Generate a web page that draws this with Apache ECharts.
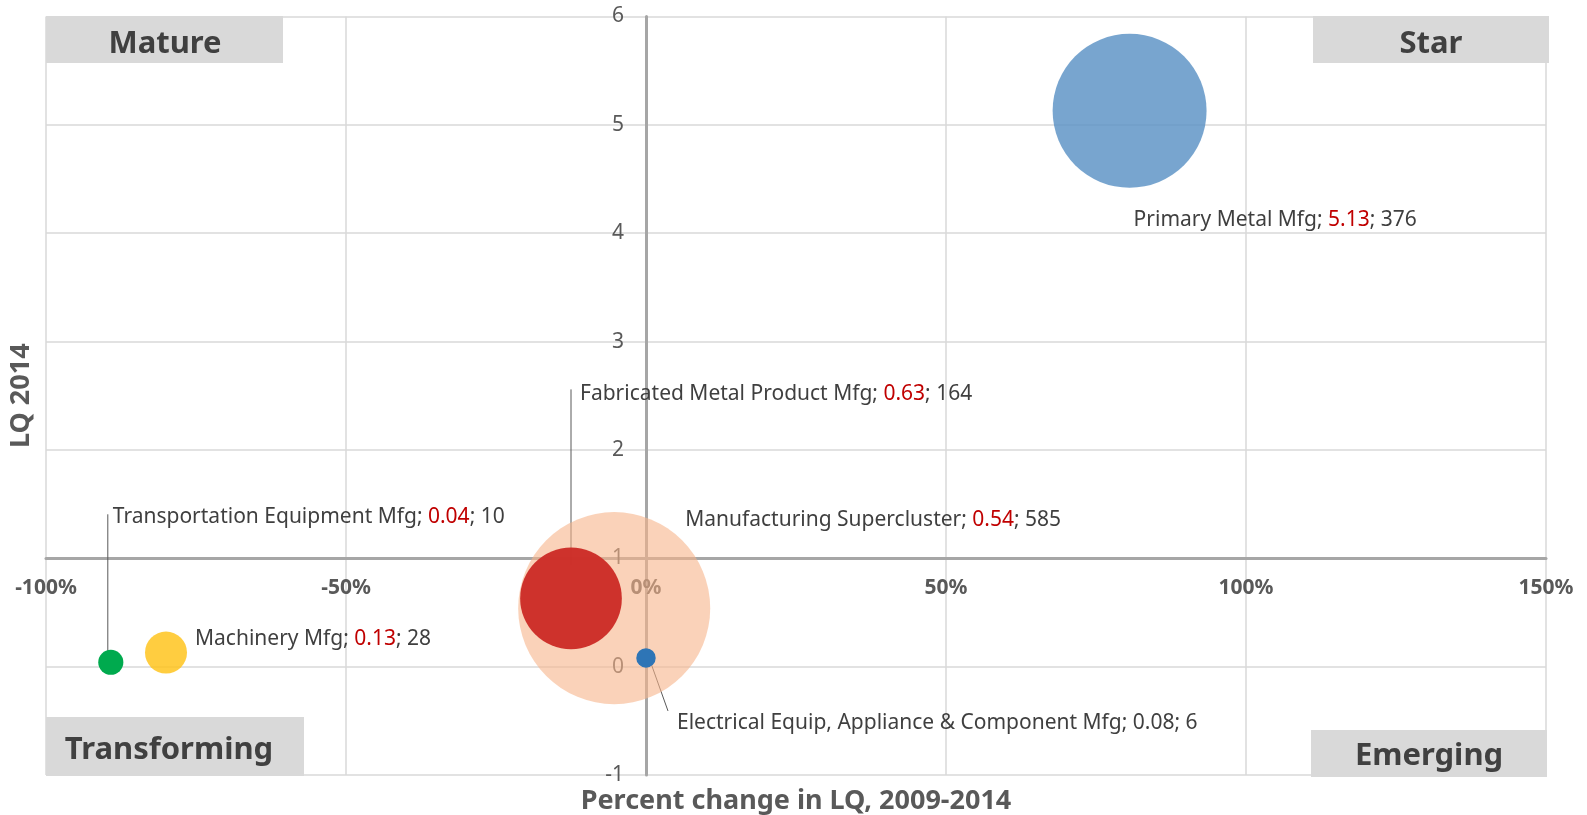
<!DOCTYPE html>
<html>
<head>
<meta charset="utf-8">
<script src="https://cdn.jsdelivr.net/npm/echarts@6/dist/echarts.min.js"></script>
<style>
html, body { margin: 0; padding: 0; background: #fff; }
#chart { width: 1587px; height: 815px; }
</style>
</head>
<body>
<div id="chart"></div>
<script>
// data
var names = ['Manufacturing Supercluster', 'Primary Metal Mfg', 'Fabricated Metal Product Mfg',
    'Machinery Mfg', 'Transportation Equipment Mfg', 'Electrical Equip, Appliance & Component Mfg'];
var pctChange = [-5.3, 80.6, -12.5, -80, -89.2, 0];
var lq2014 = [0.54, 5.13, 0.63, 0.13, 0.04, 0.08];
var employment = [585, 376, 164, 28, 10, 6];
var xTicks = [-100, -50, 0, 50, 100, 150];
var yTicks = [-1, 0, 1, 2, 3, 4, 5, 6];

// styling
var FONT = '"Noto Sans", "Open Sans", sans-serif';
var bubbleColors = ['rgba(247,180,138,0.6)', 'rgba(96,149,199,0.85)', 'rgba(204,44,39,0.96)',
    'rgba(255,196,30,0.85)', '#00AA4E', '#2E75B6'];
var labelOffsets = [[71, -88], [4, 109], [9, -204], [29, -14], [2, -145], [31, 65]];
var redValue = [true, true, true, true, true, false];
var leaders = [null, null, [[0, -209], [0, -34]], null, [[-3, -148], [-3, -7]], [[2, -3], [22, 53]]];

var gridLeft = 46, gridRight = 41, gridTop = 16.5, gridBottom = 40;
var gridWidth = 1587 - gridLeft - gridRight;
var gridHeight = 815 - gridTop - gridBottom;
var xMin = xTicks[0], xMax = xTicks[xTicks.length - 1];
var yMin = yTicks[0], yMax = yTicks[yTicks.length - 1];
// x axis crosses at LQ = 1, y axis crosses at 0%
var xAxisShift = -(1 - yMin) / (yMax - yMin) * gridHeight;
var yAxisShift = -(0 - xMin) / (xMax - xMin) * gridWidth;

var chartDom = document.getElementById('chart');
var myChart = echarts.init(chartDom);

var bubbleData = [];
names.forEach(function (name, i) {
    bubbleData.push({
        name: name,
        value: [pctChange[i], lq2014[i], employment[i]],
        itemStyle: { color: bubbleColors[i] },
        label: { offset: labelOffsets[i] }
    });
});

function quadrant(x, y, w, h, text, tx, ty) {
    return [
        { type: 'rect', shape: { x: x, y: y, width: w, height: h }, style: { fill: '#D9D9D9' }, z: 5 },
        { type: 'text', x: tx, y: ty, z: 6,
          style: { text: text, fill: '#404040', font: 'bold 31px ' + FONT, align: 'center', verticalAlign: 'middle' } }
    ];
}

var option = {
    animation: false,
    grid: { left: gridLeft, right: gridRight, top: gridTop, bottom: gridBottom, outerBoundsMode: 'none' },
    xAxis: {
        type: 'value',
        min: xMin,
        max: xMax,
        interval: 50,
        offset: xAxisShift,
        name: 'Percent change in LQ, 2009-2014',
        nameLocation: 'middle',
        nameGap: 230,
        nameTextStyle: { fontFamily: FONT, fontSize: 27, fontWeight: 'bold', color: '#595959' },
        axisLine: { onZero: false, lineStyle: { color: '#A6A6A6', width: 3 } },
        axisTick: { show: false },
        axisLabel: {
            margin: 19, fontFamily: FONT, fontSize: 21, fontWeight: 'bold', color: '#595959',
            formatter: function (v) { return v + '%'; }
        },
        splitLine: { lineStyle: { color: '#D9D9D9', width: 1.5 } }
    },
    yAxis: {
        type: 'value',
        min: yMin,
        max: yMax,
        interval: 1,
        offset: yAxisShift,
        name: 'LQ 2014',
        nameLocation: 'middle',
        nameGap: 611,
        nameTextStyle: { fontFamily: FONT, fontSize: 27, fontWeight: 'bold', color: '#595959' },
        axisLine: { onZero: false, lineStyle: { color: '#A6A6A6', width: 3 } },
        axisTick: { show: false },
        axisLabel: { margin: 22, fontFamily: FONT, fontSize: 21, color: '#595959' },
        splitLine: { lineStyle: { color: '#D9D9D9', width: 1.5 } }
    },
    graphic: [].concat(
        quadrant(46, 16, 237, 47, 'Mature', 165, 44),
        quadrant(1313, 16, 236, 47, 'Star', 1431, 44),
        quadrant(46, 717, 258, 59, 'Transforming', 169, 750),
        quadrant(1311, 730, 236, 47, 'Emerging', 1429, 756)
    ),
    series: [
        {
            type: 'scatter',
            data: bubbleData,
            symbolSize: function (v) { return Math.sqrt(v[2]) * 7.94; },
            itemStyle: { opacity: 1 },
            label: {
                show: true,
                position: 'inside',
                align: 'left',
                verticalAlign: 'middle',
                formatter: function (p) {
                    var i = p.dataIndex;
                    return '{t|' + names[i] + '; }{' + (redValue[i] ? 'r' : 't') + '|' +
                        lq2014[i].toFixed(2) + '}{t|; ' + employment[i] + '}';
                },
                rich: {
                    t: { color: '#3F3F3F', fontSize: 21, fontFamily: FONT },
                    r: { color: '#C00000', fontSize: 21, fontFamily: FONT }
                }
            },
            emphasis: { disabled: true }
        },
        {
            type: 'custom',
            coordinateSystem: 'cartesian2d',
            silent: true,
            data: names.map(function (n, i) { return [pctChange[i], lq2014[i]]; }),
            renderItem: function (params, api) {
                var l = leaders[params.dataIndex];
                if (!l) return { type: 'group', children: [] };
                var c = api.coord([api.value(0), api.value(1)]);
                return {
                    type: 'line',
                    shape: { x1: c[0] + l[0][0], y1: c[1] + l[0][1], x2: c[0] + l[1][0], y2: c[1] + l[1][1] },
                    style: { stroke: '#595959', lineWidth: 1 }
                };
            }
        }
    ]
};
myChart.setOption(option);

window.addEventListener('resize', function () {
    myChart.resize();
});
</script>
</body>
</html>
